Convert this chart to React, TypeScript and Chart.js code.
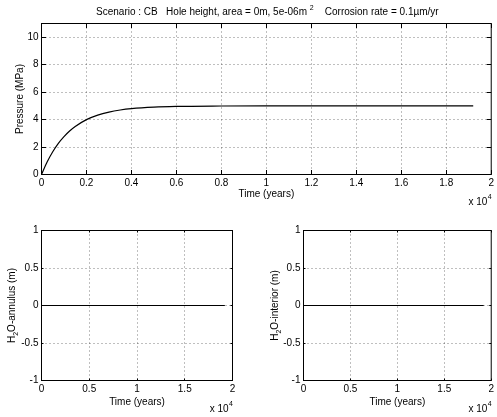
import React, { useEffect, useRef } from "react";
import { Chart, registerables } from "chart.js";

Chart.register(...registerables);

// ---------- data ----------
const timeYears = [0, 250, 500, 750, 1000, 1250, 1500, 2000, 2500, 3000, 3500, 4000, 5000, 6000, 8000, 10000, 12000, 14000, 16000, 19200];
const pressureMPa = [0, 0.91, 1.66, 2.27, 2.76, 3.17, 3.5, 4.0, 4.33, 4.55, 4.7, 4.8, 4.91, 4.96, 4.99, 5.0, 5.0, 5.0, 5.0, 5.0];

const annulusTime = [0, 19200];
const annulusH2O = [0, 0];
const interiorTime = [0, 19200];
const interiorH2O = [0, 0];

const topXTicks = [0, 2000, 4000, 6000, 8000, 10000, 12000, 14000, 16000, 18000, 20000];
const topYTicks = [0, 2, 4, 6, 8, 10];
const bottomXTicks = [0, 5000, 10000, 15000, 20000];
const bottomYTicks = [-1, -0.5, 0, 0.5, 1];

const titleMain = "Scenario : CB   Hole height, area = 0m, 5e-06m ";
const titleSup = "2";
const titleRest = "    Corrosion rate = 0.1\u00b5m/yr";
const xLabelText = "Time (years)";

const FONT = "'Liberation Sans', Arial, Helvetica, sans-serif";

type Label = { pre: string; sub?: string; post?: string };

type PanelProps = {
  left: number;
  top: number;
  width: number;
  height: number;
  area: { l: number; t: number; r: number; b: number };
  xs: number[];
  ys: number[];
  xTicks: number[];
  yTicks: number[];
  yMin: number;
  yMax: number;
  yLabel: Label;
  yLabelX: number;
  xLabelY: number;
  x10Y: number;
  tickLen: number;
  smooth: boolean;
  title?: boolean;
  xPad: number;
};

function fmtX(v: number) {
  return String(parseFloat((v / 1e4).toFixed(3)));
}

function Panel(p: PanelProps) {
  const ref = useRef<HTMLCanvasElement | null>(null);
  useEffect(() => {
    if (!ref.current) return;
    const deco = {
      id: "deco",
      beforeDatasetsDraw(chart: any) {
        const ctx = chart.ctx as CanvasRenderingContext2D;
        const { left, top, right, bottom } = chart.chartArea;
        const sx = chart.scales.x;
        const sy = chart.scales.y;
        ctx.save();
        ctx.strokeStyle = "rgba(0,0,0,0.5)";
        ctx.lineWidth = 1;
        ctx.setLineDash([1, 3]);
        ctx.beginPath();
        for (const v of p.xTicks) {
          const px = Math.floor(sx.getPixelForValue(v)) + 0.5;
          if (px <= left + 1 || px >= right - 1) continue;
          ctx.moveTo(px, top);
          ctx.lineTo(px, bottom);
        }
        for (const v of p.yTicks) {
          const py = Math.floor(sy.getPixelForValue(v)) + 0.5;
          if (py <= top + 1 || py >= bottom - 1) continue;
          ctx.moveTo(left, py);
          ctx.lineTo(right, py);
        }
        ctx.stroke();
        ctx.restore();
      },
      afterDraw(chart: any) {
        const ctx = chart.ctx as CanvasRenderingContext2D;
        const { left, top, right, bottom } = chart.chartArea;
        const sx = chart.scales.x;
        const sy = chart.scales.y;
        ctx.save();
        ctx.strokeStyle = "#000";
        ctx.lineWidth = 1;
        ctx.beginPath();
        for (const v of p.xTicks) {
          const px = Math.floor(sx.getPixelForValue(v)) + 0.5;
          ctx.moveTo(px, bottom);
          ctx.lineTo(px, bottom - p.tickLen);
          ctx.moveTo(px, top);
          ctx.lineTo(px, top + p.tickLen);
        }
        for (const v of p.yTicks) {
          const py = Math.floor(sy.getPixelForValue(v)) + 0.5;
          ctx.moveTo(left, py);
          ctx.lineTo(left + p.tickLen, py);
          ctx.moveTo(right, py);
          ctx.lineTo(right - p.tickLen, py);
        }
        ctx.stroke();
        ctx.strokeRect(left, top, right - left, bottom - top);

        ctx.fillStyle = "#000";
        ctx.textBaseline = "middle";
        // x label
        ctx.font = `10px ${FONT}`;
        ctx.textAlign = "center";
        ctx.fillText(xLabelText, (left + right) / 2, p.xLabelY);
        // x 10^4
        ctx.textAlign = "left";
        ctx.font = `7px ${FONT}`;
        const supW = ctx.measureText("4").width;
        ctx.font = `10px ${FONT}`;
        const baseW = ctx.measureText("x 10").width;
        const sx0 = right - baseW - supW;
        ctx.fillText("x 10", sx0, p.x10Y);
        ctx.font = `7px ${FONT}`;
        ctx.fillText("4", sx0 + baseW + 0.5, p.x10Y - 5);

        // y label (rotated)
        ctx.save();
        ctx.translate(p.yLabelX, (top + bottom) / 2);
        ctx.rotate(-Math.PI / 2);
        ctx.textAlign = "left";
        ctx.font = `10px ${FONT}`;
        const w1 = ctx.measureText(p.yLabel.pre).width;
        ctx.font = `7px ${FONT}`;
        const w2 = p.yLabel.sub ? ctx.measureText(p.yLabel.sub).width : 0;
        ctx.font = `10px ${FONT}`;
        const w3 = p.yLabel.post ? ctx.measureText(p.yLabel.post).width : 0;
        let x0 = -(w1 + w2 + w3) / 2;
        ctx.fillText(p.yLabel.pre, x0, 0);
        x0 += w1;
        if (p.yLabel.sub) {
          ctx.font = `7px ${FONT}`;
          ctx.fillText(p.yLabel.sub, x0, 4);
          x0 += w2;
        }
        if (p.yLabel.post) {
          ctx.font = `10px ${FONT}`;
          ctx.fillText(p.yLabel.post, x0, 0);
        }
        ctx.restore();

        // title
        if (p.title) {
          ctx.font = `10px ${FONT}`;
          const a = ctx.measureText(titleMain).width;
          const c = ctx.measureText(titleRest).width;
          ctx.font = `7px ${FONT}`;
          const b = ctx.measureText(titleSup).width;
          let tx = (left + right) / 2 + 1 - (a + b + c) / 2;
          const ty = 12;
          ctx.textAlign = "left";
          ctx.font = `10px ${FONT}`;
          ctx.fillText(titleMain, tx, ty);
          tx += a;
          ctx.font = `7px ${FONT}`;
          ctx.fillText(titleSup, tx, ty - 4);
          tx += b;
          ctx.font = `10px ${FONT}`;
          ctx.fillText(titleRest, tx, ty);
        }
        ctx.restore();
      },
    };

    const chart = new Chart(ref.current, {
      type: "line",
      data: {
        datasets: [
          {
            data: p.xs.map((x, i) => ({ x, y: p.ys[i] })),
            borderColor: "#000",
            borderWidth: 1.2,
            pointRadius: 0,
            fill: false,
            cubicInterpolationMode: p.smooth ? "monotone" : "default",
          },
        ],
      },
      options: {
        responsive: false,
        animation: false,
        devicePixelRatio: 1,
        layout: {
          padding: {
            left: 0,
            top: p.area.t,
            right: p.width - p.area.r,
            bottom: 0,
          },
        },
        plugins: {
          legend: { display: false },
          tooltip: { enabled: false },
          title: { display: false },
        },
        scales: {
          x: {
            type: "linear",
            min: 0,
            max: 20000,
            afterBuildTicks: (s: any) => {
              s.ticks = p.xTicks.map((v) => ({ value: v }));
            },
            afterFit: (s: any) => {
              s.height = p.height - p.area.b;
            },
            grid: { display: false, drawTicks: false },
            border: { display: false },
            ticks: {
              autoSkip: false,
              maxRotation: 0,
              padding: p.xPad,
              color: "#000",
              font: { family: FONT, size: 10 },
              callback: (v: any) => fmtX(Number(v)),
            },
          },
          y: {
            type: "linear",
            min: p.yMin,
            max: p.yMax,
            afterBuildTicks: (s: any) => {
              s.ticks = p.yTicks.map((v) => ({ value: v }));
            },
            afterFit: (s: any) => {
              s.width = p.area.l;
            },
            grid: { display: false, drawTicks: false },
            border: { display: false },
            ticks: {
              autoSkip: false,
              padding: 3,
              color: "#000",
              font: { family: FONT, size: 10 },
              callback: (v: any) => String(v),
            },
          },
        },
      },
      plugins: [deco],
    } as any);
    return () => chart.destroy();
  }, []);
  return (
    <canvas
      ref={ref}
      width={p.width}
      height={p.height}
      style={{ position: "absolute", left: p.left, top: p.top, width: p.width, height: p.height }}
    />
  );
}

export default function App() {
  return (
    <div style={{ position: "fixed", left: 0, top: 0, width: 497, height: 417, background: "#fff", overflow: "hidden" }}>
      <Panel
        left={0}
        top={0}
        width={497}
        height={212}
        area={{ l: 41.5, t: 23.5, r: 494.5, b: 174.5 }}
        xs={timeYears}
        ys={pressureMPa}
        xTicks={topXTicks}
        yTicks={topYTicks}
        yMin={0}
        yMax={11}
        yLabel={{ pre: "Pressure (MPa)" }}
        yLabelX={20}
        xLabelY={194}
        x10Y={202}
        tickLen={4.5}
        smooth={true}
        title={true}
        xPad={3}
      />
      <Panel
        left={0}
        top={215}
        width={250}
        height={202}
        area={{ l: 41.5, t: 15.5, r: 232.5, b: 165.5 }}
        xs={annulusTime}
        ys={annulusH2O}
        xTicks={bottomXTicks}
        yTicks={bottomYTicks}
        yMin={-1}
        yMax={1}
        yLabel={{ pre: "H", sub: "2", post: "O-annulus (m)" }}
        yLabelX={12}
        xLabelY={187}
        x10Y={194}
        tickLen={2}
        smooth={false}
        xPad={3}
      />
      <Panel
        left={250}
        top={215}
        width={247}
        height={202}
        area={{ l: 53.5, t: 15.5, r: 243.5, b: 165.5 }}
        xs={interiorTime}
        ys={interiorH2O}
        xTicks={bottomXTicks}
        yTicks={bottomYTicks}
        yMin={-1}
        yMax={1}
        yLabel={{ pre: "H", sub: "2", post: "O-interior (m)" }}
        yLabelX={25}
        xLabelY={187}
        x10Y={194}
        tickLen={2}
        smooth={false}
        xPad={3}
      />
    </div>
  );
}
